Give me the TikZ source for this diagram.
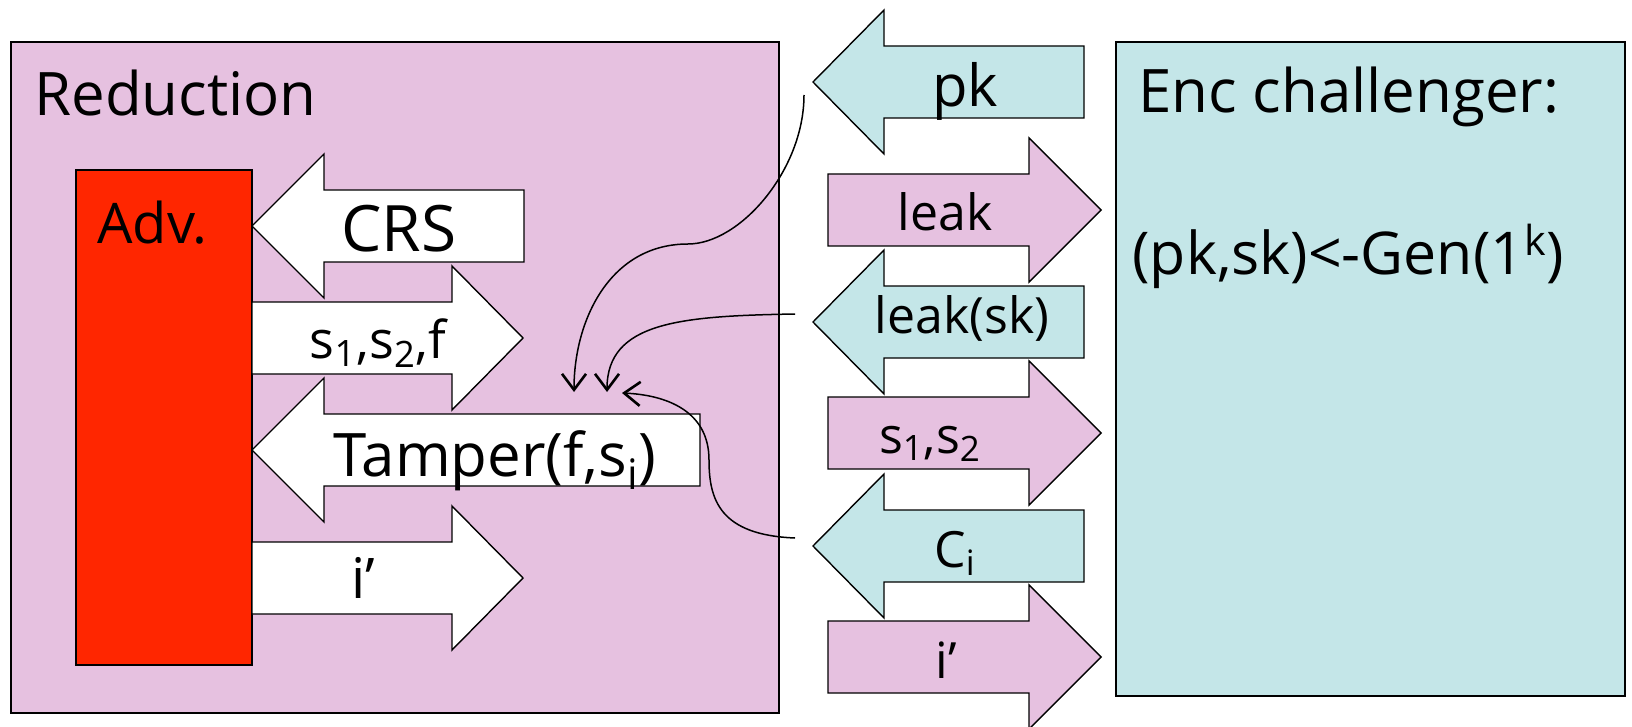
\documentclass[tikz,border=0pt]{standalone}
\usepackage{fontspec}
\setmainfont{Open Sans}
\usetikzlibrary{arrows.meta}
\definecolor{redpink}{HTML}{E6C1E0}
\definecolor{encblue}{HTML}{C4E6E8}
\definecolor{advred}{HTML}{FF2600}
\tikzset{
    frame/.style      = {draw=black, line width=1pt},
    blockarrow/.style = {draw=black, line width=0.7pt, line join=miter},
    lbl/.style        = {inner sep=0pt, anchor=base},
    flow/.style       = {draw=black, line width=0.75pt,
                         -{Straight Barb[length=8pt, width=12pt, line width=1.3pt]}}
}
\newcommand{\fs}[1]{\fontsize{#1}{1.2\dimexpr#1pt\relax}\selectfont}

\begin{document}
\begin{tikzpicture}[x=0.5pt, y=-0.5pt]
  \useasboundingbox (0,0) rectangle (1632,727);
  \draw[frame, fill=redpink] (11,42) rectangle (779,713);
  \draw[frame, fill=encblue] (1116,42) rectangle (1625,696);
  \draw[frame, fill=advred] (76,170) rectangle (252,665);
  % tip / head base / tail / centre / fill
  \foreach \tip/\base/\tail/\yc/\col in {
      252/324/524/226/white, 252/324/700/450/white,
      523/452/252/338/white, 523/452/252/578/white,
      813/884/1084/82/encblue, 813/884/1084/322/encblue, 813/884/1084/546/encblue,
      1101/1029/828/210/redpink, 1101/1029/828/433/redpink, 1101/1029/828/657/redpink}
    \draw[blockarrow, fill=\col] (\tip,\yc) -- (\base,\yc-72) -- (\base,\yc-36)
      -- (\tail,\yc-36) -- (\tail,\yc+36) -- (\base,\yc+36) -- (\base,\yc+72) -- cycle;

  \node[lbl, anchor=base west, font=\fs{30}] (redtitle) at (34,116) {Reduction};
  \node[lbl, anchor=base west, font=\fs{30}] (enctitle) at (1138,113) {Enc challenger:};
  \node[lbl, anchor=base west, font=\fs{29.5}] (gen) at (1132,274) {(pk,sk)<-Gen(1\textsuperscript{k})};
  \node[lbl, anchor=base west, font=\fs{28}] (adv) at (97,243) {Adv.};
  \node[lbl, font=\fs{32}] (crs) at (399,252) {CRS};
  \node[lbl, font=\fs{26}] (sfun) at (378,358) {s\textsubscript{1},s\textsubscript{2},f};
  \node[lbl, font=\fs{30}] (tamper) at (495,476) {Tamper(f,s\textsubscript{i})};
  \node[lbl, font=\fs{28}] (iadv) at (363,598) {i’};
  \node[lbl, font=\fs{29}] (pk) at (965,107) {pk};
  \node[lbl, font=\fs{25}] (leak) at (945,231) {leak};
  \node[lbl, font=\fs{25}] (leaksk) at (962,333) {leak(sk)};
  \node[lbl, font=\fs{25}] (sshares) at (930,453) {s\textsubscript{1},s\textsubscript{2}};
  \node[lbl, font=\fs{25}] (cipher) at (955,567) {C\textsubscript{i}};
  \node[lbl, font=\fs{25}] (ienc) at (946,678) {i’};

  \coordinate (pkfrom)   at (804,95);
  \coordinate (pkbend)   at (688,244);
  \coordinate (pkto)     at (574,392);
  \coordinate (leakfrom) at (795,314);
  \coordinate (leakto)   at (607,392);
  \coordinate (cifrom)   at (795,538);
  \coordinate (cibend)   at (709,460);
  \coordinate (cito)     at (622,393);
  \draw[flow] (pkfrom) .. controls +(0,75) and +(52,0) .. (pkbend)
              .. controls +(-78,0) and +(0,-72) .. (pkto);
  \draw[flow] (leakfrom) .. controls +(-115,2) and +(0,-70) .. (leakto);
  \draw[flow] (cifrom) .. controls +(-75,-3) and +(0,40) .. (cibend)
              .. controls +(0,-50) and +(43,2) .. (cito);
\end{tikzpicture}
\end{document}
